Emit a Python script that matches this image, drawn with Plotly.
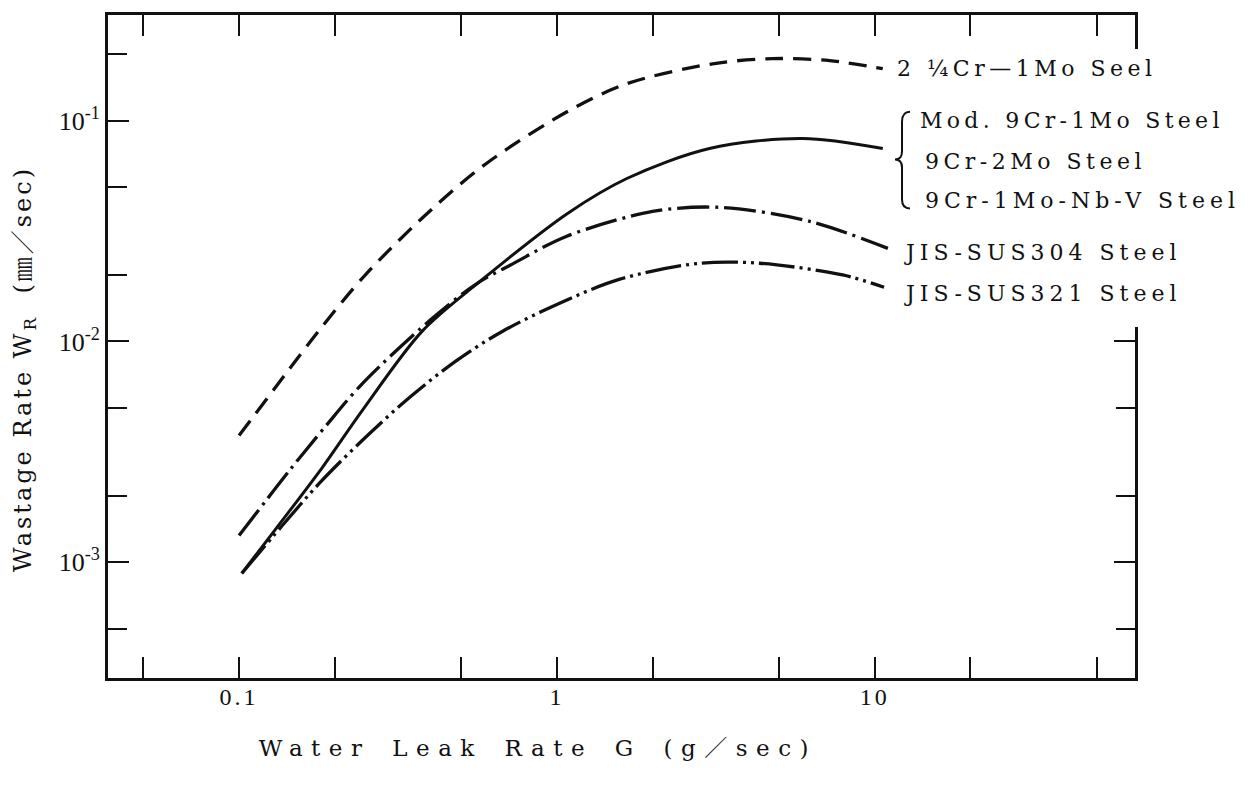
import numpy as np
import plotly.graph_objects as go

# Water leak rate G (g/sec) versus wastage rate W_R (mm/sec)
g_cr_mo = [0.1, 0.144, 0.181, 0.251, 0.397, 0.60, 1.08, 1.66, 3.09, 4.77, 7.22, 10.6]
wr_cr_mo = [0.00375, 0.0075, 0.0115, 0.0202, 0.0388, 0.064, 0.110, 0.147, 0.181, 0.191, 0.187, 0.172]

g_9cr = [0.102, 0.137, 0.183, 0.244, 0.377, 0.570, 1.08, 1.66, 3.02, 5.93, 10.6]
wr_9cr = [0.00089, 0.00155, 0.00269, 0.00486, 0.01114, 0.0186, 0.0380, 0.0547, 0.0748, 0.0830, 0.0748]

g_sus304 = [0.1, 0.144, 0.188, 0.244, 0.397, 0.557, 0.724, 1.07, 2.0, 3.25, 6.24, 11.0]
wr_sus304 = [0.00132, 0.0026, 0.00416, 0.00643, 0.0124, 0.0182, 0.0224, 0.0299, 0.0388, 0.0405, 0.035, 0.0264]

g_sus321 = [0.102, 0.137, 0.179, 0.244, 0.343, 0.482, 0.673, 1.02, 1.57, 2.81, 4.35, 7.93, 10.7]
wr_sus321 = [0.00089, 0.00147, 0.00228, 0.00356, 0.00556, 0.00817, 0.0111, 0.0149, 0.0191, 0.0226, 0.0226, 0.0200, 0.0176]

x_major = [0.1, 1, 10]
x_major_text = ["0.1", "1", "10"]
x_minor = [0.05, 0.2, 0.5, 2, 5, 20, 50]
y_major = [0.001, 0.01, 0.1]
y_major_text = ["10<sup>-3</sup>", "10<sup>-2</sup>", "10<sup>-1</sup>"]
y_minor = [0.0005, 0.002, 0.005, 0.02, 0.05, 0.2]

curve_labels = [
    "2 ¼Cr—1Mo Seel",
    "Mod. 9Cr-1Mo Steel",
    "9Cr-2Mo Steel",
    "9Cr-1Mo-Nb-V Steel",
    "JIS-SUS304 Steel",
    "JIS-SUS321 Steel",
]
x_title = "Water Leak Rate G (g／sec)"
y_title = "Wastage Rate W<sub>R</sub>  (㎜／sec)"

INK = "#111111"
SERIF = "DejaVu Serif, Noto Serif CJK JP, Noto Sans CJK JP, serif"
TICKSERIF = "Liberation Serif, serif"

W, H = 1257, 797
ML, MR, MT, MB = 108, 122, 13, 119
PW, PH = W - ML - MR, H - MT - MB


def px(x):
    return (x - ML) / PW


def py(y):
    return (H - MB - y) / PH


fig = go.Figure()

series = [
    (g_cr_mo, wr_cr_mo, "18px,10px", 3.3),
    (g_9cr, wr_9cr, "solid", 3.0),
    (g_sus304, wr_sus304, "32px,6px,3px,6px", 3.3),
    (g_sus321, wr_sus321, "36px,5px,3px,5px,3px,5px", 3.3),
]
for gx, wy, dash, lw in series:
    fig.add_trace(go.Scatter(
        x=gx, y=wy, mode="lines",
        line=dict(color=INK, width=lw, dash=dash, shape="spline", smoothing=0.9),
        hoverinfo="skip",
    ))

# curve labels at the right end of each curve
label_pos = [(895, 67), (918, 119), (923, 160), (923, 199), (902, 251), (902, 292)]
annotations = []
for text, (lx, ly) in zip(curve_labels, label_pos):
    annotations.append(dict(
        text=text, x=px(lx), y=py(ly), xref="paper", yref="paper",
        xanchor="left", yanchor="middle", align="left", showarrow=False,
        font=dict(family=SERIF, size=22, color=INK),
    ))

annotations.append(dict(
    text=x_title, x=px(538), y=py(748), xref="paper", yref="paper",
    xanchor="center", yanchor="middle", showarrow=False,
    font=dict(family=SERIF, size=23, color=INK),
))
annotations.append(dict(
    text=y_title, x=px(25), y=py(368), xref="paper", yref="paper",
    xanchor="center", yanchor="middle", showarrow=False, textangle=-90,
    font=dict(family=SERIF, size=24, color=INK),
))

# brace grouping the three 9Cr steels
bx = [(910, 110), (902, 110), (902, 120), (902, 150), (902, 158), (895, 158),
      (902, 158), (902, 166), (902, 198), (902, 207), (910, 207)]
P = [f"{px(a):.5f},{py(b):.5f}" for a, b in bx]
brace = (f"M {P[0]} Q {P[1]} {P[2]} L {P[3]} Q {P[4]} {P[5]} "
         f"Q {P[6]} {P[7]} L {P[8]} Q {P[9]} {P[10]}")

shapes = [
    # open the right frame where the labels run across it
    dict(type="rect", xref="paper", yref="paper",
         x0=px(1104), x1=px(1152), y0=py(326), y1=py(47),
         fillcolor="white", line=dict(width=0), layer="above"),
    dict(type="path", xref="paper", yref="paper", path=brace,
         line=dict(color=INK, width=2), layer="above"),
]

axis_common = dict(
    type="log", ticks="inside", ticklen=21, tickwidth=2, tickcolor=INK,
    showline=True, linewidth=3, linecolor=INK, mirror="ticks",
    showgrid=False, zeroline=False,
)

fig.update_layout(
    width=W, height=H, autosize=False,
    margin=dict(l=ML, r=MR, t=MT, b=MB, pad=0),
    paper_bgcolor="white", plot_bgcolor="white",
    showlegend=False,
    xaxis=dict(
        **axis_common,
        range=[np.log10(0.0387), np.log10(65.9)],
        tickmode="array", tickvals=x_major, ticktext=x_major_text,
        minor=dict(tickmode="array", tickvals=x_minor, ticks="inside",
                   ticklen=21, tickwidth=2, tickcolor=INK, showgrid=False),
        tickfont=dict(family=TICKSERIF, size=24, color=INK),
    ),
    yaxis=dict(
        **axis_common,
        range=[np.log10(0.000299), np.log10(0.301)],
        tickmode="array", tickvals=y_major, ticktext=y_major_text,
        minor=dict(tickmode="array", tickvals=y_minor, ticks="inside",
                   ticklen=19, tickwidth=2, tickcolor=INK, showgrid=False),
        tickfont=dict(family=TICKSERIF, size=26, color=INK),
    ),
    annotations=annotations,
    shapes=shapes,
)

# wide typewriter-like letter spacing for the labels and titles
spacing_js = """
var gd = document.getElementById('{plot_id}');
var sp = [4.5, 4.3, 4.5, 5, 5, 5, 8.5, 3];
gd.querySelectorAll('g.annotation').forEach(function (g) {
  var i = +g.getAttribute('data-index');
  var t = g.querySelector('text');
  if (t && sp[i] !== undefined) { t.setAttribute('letter-spacing', sp[i]); }
  if (t && i === 6) { t.setAttribute('word-spacing', 6); }
});
gd.querySelectorAll('.xtick text').forEach(function (t) {
  t.setAttribute('letter-spacing', 3);
  t.setAttribute('transform', (t.getAttribute('transform') || '') + ' translate(0,-5)');
});
"""

fig.write_html("out.html", post_script=spacing_js,
               config={"displayModeBar": False, "staticPlot": True})
